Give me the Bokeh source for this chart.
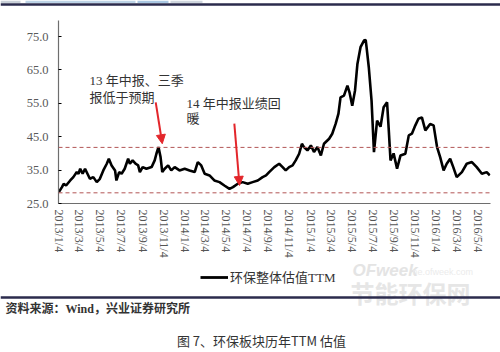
import pandas as pd
from bokeh.plotting import figure
from bokeh.layouts import column
from bokeh.models import (Span, Label, Arrow, NormalHead, Legend, LegendItem,
                          FixedTicker, Range1d)
from bokeh.embed import file_html
from bokeh.resources import INLINE

# ---- data ----
dates = [
    "2013-01-04", "2013-01-13", "2013-01-18", "2013-01-25", "2013-02-06", "2013-02-15",
    "2013-02-25", "2013-03-02", "2013-03-07", "2013-03-14", "2013-03-21", "2013-03-28",
    "2013-04-04", "2013-04-14", "2013-04-24", "2013-05-03", "2013-05-13", "2013-05-23",
    "2013-05-29", "2013-06-06", "2013-06-16", "2013-06-20", "2013-06-28", "2013-07-05",
    "2013-07-14", "2013-07-24", "2013-07-29", "2013-08-06", "2013-08-15", "2013-08-22",
    "2013-08-27", "2013-09-04", "2013-09-15", "2013-09-30", "2013-10-09", "2013-10-14",
    "2013-10-20", "2013-10-26", "2013-10-31", "2013-11-07", "2013-11-17", "2013-11-26",
    "2013-12-06", "2013-12-20", "2014-01-04", "2014-01-18", "2014-02-02", "2014-02-11",
    "2014-02-21", "2014-03-03", "2014-03-17", "2014-03-31", "2014-04-15", "2014-04-29",
    "2014-05-14", "2014-05-24", "2014-06-07", "2014-06-21", "2014-07-06", "2014-07-20",
    "2014-08-04", "2014-08-18", "2014-08-28", "2014-09-06", "2014-09-21", "2014-10-05",
    "2014-10-15", "2014-10-24", "2014-11-03", "2014-11-13", "2014-11-22", "2014-12-02",
    "2014-12-10", "2014-12-16", "2014-12-26", "2015-01-05", "2015-01-14", "2015-01-24",
    "2015-02-03", "2015-02-12", "2015-02-27", "2015-03-08", "2015-03-18", "2015-03-26",
    "2015-04-01", "2015-04-11", "2015-04-21", "2015-04-27", "2015-05-05", "2015-05-13",
    "2015-05-20", "2015-05-29", "2015-06-08", "2015-06-13", "2015-06-15", "2015-06-22",
    "2015-06-30", "2015-07-07", "2015-07-16", "2015-07-26", "2015-08-04", "2015-08-14",
    "2015-08-19", "2015-08-24", "2015-09-02", "2015-09-12", "2015-09-22", "2015-10-06",
    "2015-10-16", "2015-10-25", "2015-11-04", "2015-11-13", "2015-11-23", "2015-12-03",
    "2015-12-17", "2015-12-27", "2016-01-06", "2016-01-15", "2016-01-25", "2016-02-03",
    "2016-02-13", "2016-02-22", "2016-03-03", "2016-03-18", "2016-04-01", "2016-04-16",
    "2016-04-30", "2016-05-15", "2016-05-29", "2016-06-07",
]
pe_ttm = [
    28.4, 29.9, 30.9, 30.4, 31.9, 32.9,
    34.4, 33.9, 35.4, 33.9, 35.4, 33.9,
    32.4, 32.9, 31.4, 32.4, 34.9, 36.9,
    38.4, 36.4, 34.9, 31.9, 34.4, 33.9,
    35.4, 38.4, 36.9, 37.9, 36.9, 36.4,
    34.4, 35.9, 35.4, 35.9, 37.9, 39.9,
    41.9, 38.9, 34.4, 35.4, 36.4, 34.9,
    35.9, 34.9, 35.4, 34.9, 34.4, 37.4,
    36.4, 33.9, 33.4, 31.9, 31.4, 30.4,
    29.4, 29.9, 30.9, 31.4, 30.9, 31.4,
    31.9, 32.9, 33.4, 34.4, 35.9, 36.9,
    35.9, 34.9, 35.9, 36.4, 37.9, 39.9,
    42.9, 41.9, 40.9, 42.4, 40.4, 41.9,
    39.4, 42.9, 44.4, 45.9, 48.9, 51.9,
    56.8, 57.3, 60.3, 58.3, 54.3, 58.8,
    66.8, 71.8, 73.8, 74.0, 72.3, 65.8,
    55.8, 40.4, 49.8, 48.0, 53.8, 55.3,
    46.9, 37.9, 40.0, 35.4, 39.4, 39.9,
    45.4, 45.9, 48.4, 50.4, 50.8, 46.9,
    48.8, 48.4, 41.9, 38.9, 34.9, 36.9,
    38.4, 35.9, 32.9, 34.4, 36.9, 37.4,
    35.9, 33.9, 34.4, 33.4,
]
ref_levels = [41.8, 28.2]
tick_labels = [
    "2013/1/4", "2013/3/4", "2013/5/4", "2013/7/4", "2013/9/4", "2013/11/4",
    "2014/1/4", "2014/3/4", "2014/5/4", "2014/7/4", "2014/9/4", "2014/11/4",
    "2015/1/4", "2015/3/4", "2015/5/4", "2015/7/4", "2015/9/4", "2015/11/4",
    "2016/1/4", "2016/3/4", "2016/5/4",
]
y_ticks = [25, 35, 45, 55, 65, 75]
series_name = "环保整体估值TTM"
source_text = "资料来源：Wind，兴业证券研究所"
caption_text = "图 7、环保板块历年TTM 估值"
note_1 = ["13 年中报、三季", "报低于预期"]
note_2 = ["14 年中报业绩回", "暖"]

SERIF = "Liberation Serif, Noto Sans CJK SC"
RULE = "#2b2b4d"


def blank_panel(h, y_top, y_bottom):
    f = figure(width=500, height=h, output_backend="svg", toolbar_location=None,
               x_range=Range1d(0, 500), y_range=Range1d(y_bottom, y_top),
               x_axis_location=None, y_axis_location=None, min_border=0,
               frame_align=False)
    f.grid.visible = False
    f.outline_line_color = None
    f.background_fill_color = "white"
    f.border_fill_color = "white"
    return f


# ---- top strip: page header remnants + rule ----
p0 = blank_panel(20, 0, 20)
p0.quad(left=[0, 25, 137, 170], right=[20, 135, 168, 202],
        top=[0, 0, 0, 0], bottom=[2.5, 2.5, 2.5, 2.5],
        fill_color=["#c9d0d8", "#bcd3e6", "#a9c7e2", "#cfd6de"], line_alpha=0)
p0.add_layout(Span(location=4, dimension="width", line_color=RULE, line_width=2.5))

# ---- main chart ----
x = pd.to_datetime(dates)
tick_ms = [float(pd.Timestamp(t.replace("/", "-")).value / 1e6) for t in tick_labels]

p = figure(width=500, height=242, x_axis_type="datetime",
           output_backend="svg", toolbar_location=None,
           min_border_left=58, min_border_right=10,
           min_border_top=0, min_border_bottom=59, frame_align=False,
           x_range=Range1d(pd.Timestamp("2013-01-03"), pd.Timestamp("2016-06-09")),
           y_range=Range1d(25, 79.8))
p.outline_line_color = None
p.grid.visible = False
p.background_fill_color = "white"
p.border_fill_color = "white"

r = p.line(x, pe_ttm, line_color="black", line_width=2.6)

for lv in ref_levels:
    p.add_layout(Span(location=lv, dimension="width", line_color="#b25555",
                      line_dash="4 3", line_width=1))

xa = p.xaxis[0]
xa.ticker = FixedTicker(ticks=tick_ms)
xa.major_label_overrides = {t: l for t, l in zip(tick_ms, tick_labels)}
xa.major_label_orientation = "vertical"
xa.major_label_text_font = "Liberation Serif"
xa.major_label_text_font_size = "12px"
xa.major_label_text_color = "#555555"
xa.major_tick_in = 0
xa.major_tick_out = 0
xa.minor_tick_in = 0
xa.minor_tick_out = 0
xa.axis_line_color = "#6e6e6e"
xa.axis_line_width = 1.2
xa.major_label_standoff = 6

ya = p.yaxis[0]
ya.ticker = FixedTicker(ticks=y_ticks)
ya.major_label_overrides = {v: f"{v:.1f}" for v in y_ticks}
ya.major_label_text_font = "Liberation Serif"
ya.major_label_text_font_size = "12.5px"
ya.major_label_text_color = "#595959"
ya.major_tick_in = 3
ya.major_tick_out = 0
ya.minor_tick_in = 0
ya.minor_tick_out = 0
ya.axis_line_color = "#6e6e6e"
ya.axis_line_width = 1.2
ya.major_label_standoff = 10

ann_style = dict(x_units="screen", y_units="screen", text_font=SERIF,
                 text_font_size="13px", text_color="#333333", text_baseline="middle")
p.add_layout(Label(x=31, y=123, text=note_1[0], **ann_style))
p.add_layout(Label(x=31, y=106.5, text=note_1[1], **ann_style))
p.add_layout(Label(x=128, y=100, text=note_2[0], **ann_style))
p.add_layout(Label(x=128, y=85, text=note_2[1], **ann_style))

red = "#e3262b"
p.add_layout(Arrow(end=NormalHead(size=9, fill_color=red, line_color=red),
                   x_start=pd.Timestamp("2013-10-12"), y_start=55.3,
                   x_end=pd.Timestamp("2013-10-31"), y_end=42.9,
                   line_color=red, line_width=2))
p.add_layout(Arrow(end=NormalHead(size=9, fill_color=red, line_color=red),
                   x_start=pd.Timestamp("2014-05-28"), y_start=48.9,
                   x_end=pd.Timestamp("2014-06-12"), y_end=30.4,
                   line_color=red, line_width=2))

# ---- bottom strip: legend, watermark, rule, source, caption ----
p2 = blank_panel(90, 262, 352)
# legend key: same series, hidden in this strip (only used for the legend swatch)
swatch = p2.line(x, pe_ttm, line_color="black", line_width=2.8, visible=False)
legend = Legend(items=[LegendItem(label=series_name, renderers=[swatch])],
                location=(200, 66), padding=0, margin=0, spacing=0,
                glyph_width=28, glyph_height=16, label_height=16,
                label_standoff=2, label_text_font=SERIF,
                label_text_font_size="13px", label_text_color="#333333",
                border_line_alpha=0, background_fill_alpha=0)
p2.add_layout(legend)

p2.add_layout(Label(x=352, y=270, text="OFweek", text_font="Liberation Sans",
                    text_font_style="bold italic", text_font_size="17px",
                    text_color="#e4e4e4", text_baseline="middle"))
p2.add_layout(Label(x=412, y=271, text="ne.ofweek.com", text_font="Liberation Sans",
                    text_font_size="9px", text_color="#ebebeb", text_baseline="middle"))
p2.add_layout(Label(x=350, y=292, text="节能环保网", text_font="Noto Sans CJK SC",
                    text_font_style="bold", text_font_size="24px",
                    text_color="#e6e6e6", text_baseline="middle"))

p2.add_layout(Span(location=297, dimension="width", line_color=RULE, line_width=2.5))

p2.add_layout(Label(x=5, y=308, text=source_text, text_font=SERIF,
                    text_font_style="bold", text_font_size="12px",
                    text_color="#333333", text_baseline="middle"))
p2.add_layout(Label(x=261, y=340, text=caption_text, text_font="Noto Sans CJK SC",
                    text_font_size="13px", text_color="#333333",
                    text_align="center", text_baseline="middle"))

layout = column(p0, p, p2, spacing=0)
open("out.html", "w").write(file_html(layout, INLINE))
